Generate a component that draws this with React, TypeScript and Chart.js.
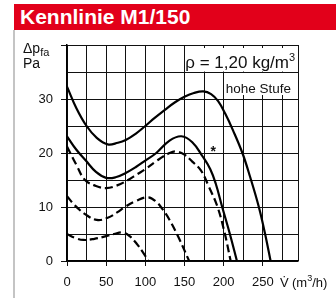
import React, { useEffect, useRef } from "react";
import { Chart, registerables } from "chart.js";

Chart.register(...registerables);

// Axis ticks
const X_LABELED = [0, 50, 100, 150, 200, 250];
const X_GRID = [0, 25, 50, 75, 100, 125, 150, 175, 200, 225, 250, 275, 295];
const Y_LABELED = [0, 10, 20, 30];

// Curve 1 (solid, upper)
const c1X = [0, 12, 25, 38, 52, 65, 75, 88, 100, 112, 125, 138, 150, 162, 174, 184, 193, 202, 212, 224, 234, 245, 253, 260];
const c1Y = [32.3, 28.3, 25.0, 22.8, 21.6, 21.9, 22.4, 23.6, 25.0, 26.5, 28.0, 29.4, 30.4, 31.1, 31.4, 30.9, 29.6, 27.3, 24.2, 20.0, 15.5, 10.0, 5.0, 0];

// Curve 2 (solid, middle)
const c2X = [0, 12, 24, 37, 50, 62, 75, 88, 100, 114, 131, 146, 160, 173, 183, 190, 198, 208, 217];
const c2Y = [23.1, 20.6, 18.6, 16.5, 15.4, 15.5, 16.3, 17.4, 18.6, 20.0, 22.3, 23.1, 22.0, 19.4, 17.0, 14.3, 10.1, 5.0, 0];

// Curve 3 (dashed, upper)
const c3X = [0, 12, 23, 37, 50, 64, 78, 90, 100, 115, 131, 139, 150, 160, 171, 181, 192, 201, 209];
const c3Y = [21.2, 17.8, 15.0, 13.9, 13.5, 14.0, 15.0, 16.1, 17.0, 18.6, 20.0, 20.3, 19.7, 18.4, 16.8, 13.8, 10.1, 5.4, 0];

// Curve 4 (dashed, middle)
const c4X = [0, 10, 24, 38, 52, 64, 74, 88, 103, 113, 122, 131, 143, 156];
const c4Y = [12.0, 10.3, 8.6, 7.6, 8.0, 9.0, 10.0, 11.1, 11.8, 11.1, 9.6, 7.6, 4.2, 0];

// Curve 5 (dashed, lower)
const c5X = [0, 10, 21, 35, 50, 60, 71, 80, 89, 97, 104];
const c5Y = [5.0, 4.3, 3.9, 4.1, 4.6, 5.0, 5.3, 4.6, 3.2, 1.6, 0];

// Marker position (star)
const STAR_X = 186.6;
const STAR_Y = 21;

const FONT = '"Liberation Sans", Arial, Helvetica, sans-serif';

const pts = (xs: number[], ys: number[]) => xs.map((x, i) => ({ x, y: ys[i] }));

export default function App() {
  const ref = useRef<HTMLCanvasElement>(null);

  useEffect(() => {
    const canvas = ref.current;
    if (!canvas) return;

    const annotations = {
      id: "annotations",
      afterDatasetsDraw(chart: any) {
        const { ctx, chartArea: a, scales } = chart;
        const xs = scales.x;
        const ys = scales.y;
        ctx.save();
        // white boxes behind the notes
        ctx.fillStyle = "#ffffff";
        const bx1 = xs.getPixelForValue(152);
        ctx.fillRect(bx1, a.top + 3, a.right - bx1 - 1, ys.getPixelForValue(35) - a.top - 3.5);
        const bx2 = xs.getPixelForValue(203);
        ctx.fillRect(bx2, ys.getPixelForValue(35) + 1, a.right - bx2 - 1, ys.getPixelForValue(30) - ys.getPixelForValue(35) - 5);

        ctx.fillStyle = "#111";
        ctx.textBaseline = "alphabetic";
        // rho note
        ctx.textAlign = "right";
        ctx.font = `17px ${FONT}`;
        const supW = 6;
        ctx.fillText("ρ = 1,20 kg/m", a.right - 3 - supW, 68);
        ctx.font = `11px ${FONT}`;
        ctx.textAlign = "left";
        ctx.fillText("3", a.right - 3 - supW, 61);
        // hohe Stufe
        ctx.textAlign = "right";
        ctx.font = `13.5px ${FONT}`;
        ctx.fillText("hohe Stufe", a.right - 7, 93);
        // star
        ctx.textAlign = "center";
        ctx.font = `bold 14px ${FONT}`;
        ctx.fillText("*", xs.getPixelForValue(STAR_X), ys.getPixelForValue(STAR_Y) + 8);
        ctx.restore();
      },
      afterDraw(chart: any) {
        const { ctx } = chart;
        ctx.save();
        ctx.fillStyle = "#111";
        ctx.textBaseline = "alphabetic";
        ctx.textAlign = "left";
        // y axis title
        ctx.font = `14px ${FONT}`;
        ctx.fillText("Δp", 23, 53);
        const w = ctx.measureText("Δp").width;
        ctx.font = `11px ${FONT}`;
        ctx.fillText("fa", 23 + w, 56);
        ctx.font = `14px ${FONT}`;
        ctx.fillText("Pa", 23, 68);
        // x axis title
        ctx.font = `13px ${FONT}`;
        ctx.fillText("V\u0307", 280, 287);
        ctx.fillText("(m", 292, 287);
        const w2 = ctx.measureText("(m").width;
        ctx.font = `9px ${FONT}`;
        ctx.fillText("3", 292 + w2, 281);
        ctx.font = `13px ${FONT}`;
        ctx.fillText("/h)", 292 + w2 + 5, 287);
        ctx.restore();
      },
    };

    const solid = { borderColor: "#000", borderWidth: 2.2, pointRadius: 0, fill: false, tension: 0.4 };
    const dashed = { ...solid, borderDash: [8, 4] };

    const chart = new Chart(canvas, {
      type: "line",
      data: {
        datasets: [
          { ...solid, data: pts(c1X, c1Y) },
          { ...solid, data: pts(c2X, c2Y) },
          { ...dashed, data: pts(c3X, c3Y) },
          { ...dashed, data: pts(c4X, c4Y) },
          { ...dashed, data: pts(c5X, c5Y) },
        ],
      },
      options: {
        responsive: false,
        animation: false,
        devicePixelRatio: 1,
        layout: { padding: { top: 45, right: 38, left: 0, bottom: 0 } },
        plugins: { legend: { display: false }, tooltip: { enabled: false }, title: { display: false } },
        scales: {
          x: {
            type: "linear",
            min: 0,
            max: 295,
            afterBuildTicks: (s: any) => {
              s.ticks = X_GRID.map((v) => ({ value: v }));
            },
            afterFit: (s: any) => {
              s.height = 37;
            },
            ticks: {
              autoSkip: false,
              maxRotation: 0,
              color: "#111",
              padding: 9,
              font: { size: 13, family: FONT },
              callback: (v: any) => (X_LABELED.includes(v) ? String(v) : ""),
            },
            grid: {
              color: "#111",
              lineWidth: 1,
              tickLength: 5,
              tickColor: (c: any) => (c.tick && X_LABELED.includes(c.tick.value) ? "#111" : "rgba(0,0,0,0)"),
            },
            border: { color: "#000", width: 1.5 },
          },
          y: {
            type: "linear",
            min: 0,
            max: 40,
            afterFit: (s: any) => {
              s.width = 67;
            },
            ticks: {
              stepSize: 5,
              color: "#111",
              padding: 8,
              font: { size: 13, family: FONT },
              callback: (v: any) => (Y_LABELED.includes(v) ? String(v) : ""),
            },
            grid: {
              color: "#111",
              lineWidth: 1,
              tickLength: 6,
              tickColor: (c: any) => (c.tick && c.tick.value % 10 === 0 ? "#111" : "rgba(0,0,0,0)"),
            },
            border: { color: "#000", width: 1.5 },
          },
        },
      },
      plugins: [annotations],
    } as any);

    return () => chart.destroy();
  }, []);

  return (
    <div style={{ position: "fixed", left: 0, top: 0, width: 336, height: 298, background: "#fff", overflow: "hidden" }}>
      <div style={{ position: "absolute", left: 13, top: 30, width: 1.5, height: 268, background: "#c4c4c4" }} />
      <div
        style={{
          position: "absolute",
          left: 14,
          top: 4,
          width: 322,
          height: 26,
          background: "#e2001a",
        }}
      >
        <span
          style={{
            position: "absolute",
            left: 6,
            top: 0,
            color: "#fff",
            fontFamily: FONT,
            fontWeight: "bold",
            fontSize: 21,
            lineHeight: "25px",
            whiteSpace: "nowrap",
          }}
        >
          Kennlinie M1/150
        </span>
      </div>
      <canvas ref={ref} width={336} height={298} style={{ position: "absolute", left: 0, top: 0 }} />
    </div>
  );
}
